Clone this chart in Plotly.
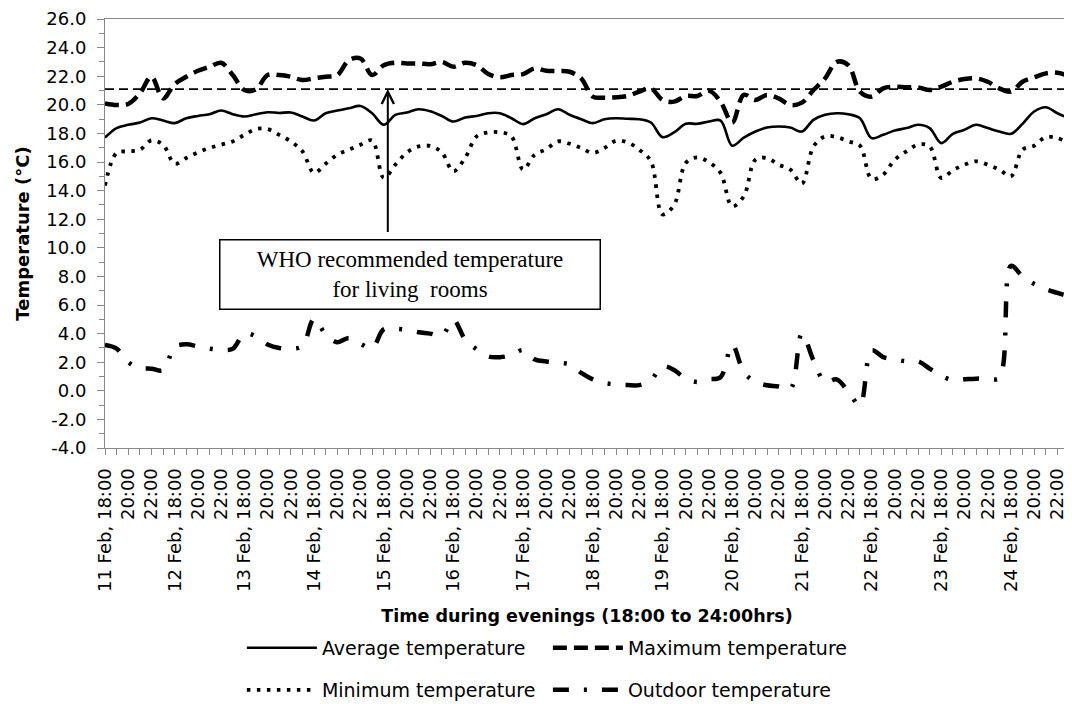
import plotly.graph_objects as go

# ---- data -------------------------------------------------------------
days = ["11 Feb", "12 Feb", "13 Feb", "14 Feb", "15 Feb", "16 Feb", "17 Feb",
        "18 Feb", "19 Feb", "20 Feb", "21 Feb", "22 Feb", "23 Feb", "24 Feb"]
hours = ["18:00", "19:00", "20:00", "21:00", "22:00", "23:00"]
labelled_hours = ["18:00", "20:00", "22:00"]

average_temp = [17.70, 18.37, 18.60, 18.76, 19.06, 18.90,
                18.72, 19.06, 19.22, 19.34, 19.60, 19.34,
                19.18, 19.34, 19.48, 19.43, 19.46, 19.18,
                18.90, 19.41, 19.60, 19.76, 19.92, 19.41,
                18.60, 19.30, 19.46, 19.69, 19.55, 19.22,
                18.83, 19.11, 19.22, 19.41, 19.41, 19.06,
                18.65, 19.06, 19.34, 19.69, 19.30, 18.99,
                18.72, 18.99, 19.06, 19.02, 18.99, 18.76,
                17.74, 18.07, 18.67, 18.67, 18.83, 18.90,
                17.14, 17.70, 18.13, 18.41, 18.48, 18.41,
                18.13, 18.95, 19.30, 19.41, 19.34, 19.06,
                17.67, 17.90, 18.20, 18.37, 18.60, 18.37,
                17.32, 17.97, 18.25, 18.60, 18.37, 18.13,
                17.97, 18.67, 19.53, 19.83, 19.41, 19.06]

maximum_temp = [20.10, 19.99, 20.06, 20.80, 21.96, 20.45,
                21.45, 21.96, 22.38, 22.66, 22.94, 22.08,
                21.03, 21.08, 22.08, 22.08, 21.96, 21.73,
                21.85, 21.96, 22.08, 23.12, 23.24, 22.08,
                22.77, 22.94, 22.89, 22.89, 22.84, 23.00,
                22.66, 22.94, 22.77, 22.15, 21.92, 22.08,
                22.15, 22.54, 22.38, 22.36, 22.31, 21.85,
                20.57, 20.50, 20.52, 20.62, 20.92, 21.15,
                20.34, 20.22, 20.62, 20.62, 20.99, 20.22,
                18.76, 20.70, 20.34, 20.69, 20.45, 19.99,
                20.15, 21.03, 21.85, 23.00, 22.77, 20.92,
                20.57, 21.15, 21.27, 21.22, 21.22, 21.03,
                21.27, 21.61, 21.80, 21.85, 21.61, 21.15,
                20.92, 21.61, 21.92, 22.20, 22.24, 22.01]

minimum_temp = [14.35, 16.63, 16.74, 16.86, 17.51, 17.21,
                15.88, 16.28, 16.67, 16.98, 17.21, 17.44,
                17.90, 18.30, 18.30, 17.90, 17.44, 16.74,
                15.24, 15.88, 16.51, 16.86, 17.21, 17.51,
                14.89, 15.81, 16.67, 17.09, 17.12, 16.67,
                15.35, 16.28, 17.79, 18.07, 18.07, 17.79,
                15.47, 16.51, 16.90, 17.44, 17.28, 16.98,
                16.63, 16.98, 17.49, 17.37, 16.86, 16.05,
                12.34, 13.00, 15.93, 16.33, 15.98, 15.24,
                12.90, 13.60, 16.16, 16.28, 15.81, 15.47,
                14.49, 17.09, 17.79, 17.74, 17.44, 17.14,
                14.82, 15.12, 16.16, 16.74, 17.21, 17.09,
                14.89, 15.42, 15.81, 16.05, 15.81, 15.47,
                15.00, 16.86, 17.14, 17.74, 17.67, 17.28]

outdoor_temp = [3.20, 2.95, 2.00, 1.60, 1.55, 1.44,
                3.06, 3.25, 3.10, 2.95, 2.87, 2.94,
                4.00, 3.80, 3.24, 2.99, 2.95, 3.13,
                5.03, 3.94, 3.40, 3.70, 3.29, 2.99,
                4.30, 4.33, 4.26, 4.10, 4.00, 3.85,
                4.95, 3.60, 2.90, 2.40, 2.35, 2.50,
                2.85, 2.20, 2.05, 1.95, 1.85, 1.25,
                0.80, 0.55, 0.45, 0.40, 0.40, 0.75,
                1.70, 1.45, 0.85, 0.62, 0.80, 0.95,
                3.22, 1.32, 0.62, 0.39, 0.30, 0.10,
                3.99, 2.13, 0.62, 0.80, -0.07, -1.00,
                2.83, 2.36, 2.20, 2.06, 2.06, 1.55,
                1.05, 0.75, 0.80, 0.85, 0.85, 0.90,
                8.74, 8.00, 7.47, 7.10, 6.85, 6.60]

who_recommended = 21.1
arrow_base = 11.0
y_tick_values = [-4, -2, 0, 2, 4, 6, 8, 10, 12, 14, 16, 18, 20, 22, 24, 26]

# ---- derived categories -------------------------------------------------
time_labels = [f"{d}, {h}" for d in days for h in hours]
x_idx = list(range(len(time_labels)))
tick_vals, tick_text = [], []
for i, lab in enumerate(time_labels):
    d, h = lab.split(", ")
    if h in labelled_hours:
        tick_vals.append(i)
        tick_text.append(lab if h == "18:00" else h)

FONT = "DejaVu Sans"
fig = go.Figure()

common = dict(mode="lines", line_shape="spline", hoverinfo="skip")
fig.add_trace(go.Scatter(x=x_idx, y=average_temp, name="Average temperature",
                         line=dict(color="black", width=2.6), legend="legend", **common))
fig.add_trace(go.Scatter(x=x_idx, y=maximum_temp, name="Maximum temperature",
                         line=dict(color="black", width=4.5, dash="14px,7px"),
                         legend="legend", **common))
fig.add_trace(go.Scatter(x=x_idx, y=minimum_temp, name="Minimum temperature",
                         line=dict(color="black", width=3.8, dash="3.5px,6.5px"),
                         legend="legend2", **common))
fig.add_trace(go.Scatter(x=x_idx, y=outdoor_temp, name="Outdoor temperature",
                         line=dict(color="black", width=4.5, dash="16px,15px,3px,15px"),
                         legend="legend2", **common))
fig.add_trace(go.Scatter(x=[x_idx[0], x_idx[-1]], y=[who_recommended] * 2,
                         mode="lines", showlegend=False, hoverinfo="skip",
                         line=dict(color="black", width=1.8, dash="9px,5px")))

# arrow
fig.add_annotation(x=24.35, y=who_recommended, ax=24.35, ay=arrow_base,
                   xref="x", yref="y", axref="x", ayref="y", text="",
                   showarrow=True, arrowhead=5, arrowsize=1.2, arrowwidth=2,
                   arrowcolor="black")
# text box
fig.add_annotation(x=26.25, y=8.15, xref="x", yref="y", showarrow=False,
                   text="WHO recommended temperature<br>for living\u00a0 rooms",
                   font=dict(family="Liberation Serif", size=23, color="black"),
                   align="center", bgcolor="white", bordercolor="black",
                   borderwidth=1.5, borderpad=0, width=379, height=68,
                   xanchor="center", yanchor="middle")

# the page body adds an 8px offset, so the figure is drawn 8px smaller
fig.update_layout(
    width=1064, height=696,
    margin=dict(l=97, r=3, t=11, b=256, autoexpand=False),
    paper_bgcolor="white", plot_bgcolor="white",
    font=dict(family=FONT, size=18, color="black"),
    legend=dict(orientation="h", x=0.142, y=-0.466, xanchor="left", yanchor="middle",
                font=dict(family=FONT, size=19), itemwidth=70, entrywidth=221,
                bgcolor="rgba(0,0,0,0)", traceorder="normal"),
    legend2=dict(orientation="h", x=0.142, y=-0.564, xanchor="left", yanchor="middle",
                 font=dict(family=FONT, size=19), itemwidth=70, entrywidth=221,
                 bgcolor="rgba(0,0,0,0)", traceorder="normal"),
)

fig.update_xaxes(
    automargin=False, ticklabeloverflow="allow",
    range=[0, len(time_labels) - 1], tickmode="array", tickvals=tick_vals,
    ticktext=tick_text, tickangle=-90, ticks="outside", ticklen=6,
    tickcolor="#888888", showgrid=False, zeroline=False,
    showline=True, linecolor="#888888", linewidth=1, mirror=True,
    minor=dict(dtick=1, ticks="outside", ticklen=6, tickcolor="#888888", showgrid=False),
    tickfont=dict(family=FONT, size=18, color="black"), ticklabelstandoff=6,
    title=dict(text="<b>Time during evenings (18:00 to 24:00hrs)</b>",
               font=dict(family=FONT, size=17.5, color="black"), standoff=18),
)
fig.update_yaxes(
    automargin=False, ticklabeloverflow="allow",
    range=[-4, 26], tickmode="array", tickvals=y_tick_values,
    ticktext=[f"{v:.1f}" for v in y_tick_values], ticks="outside", ticklen=7,
    tickcolor="#888888", showgrid=False, zeroline=False,
    showline=True, linecolor="#888888", linewidth=1, mirror=True,
    minor=dict(dtick=1, ticks="outside", ticklen=5, tickcolor="#888888", showgrid=False),
    tickfont=dict(family=FONT, size=18, color="black"), ticklabelstandoff=7,
    title=dict(text="<b>Temperature (°C)</b>",
               font=dict(family=FONT, size=18, color="black"), standoff=12),
)

fig.write_html("out.html")
